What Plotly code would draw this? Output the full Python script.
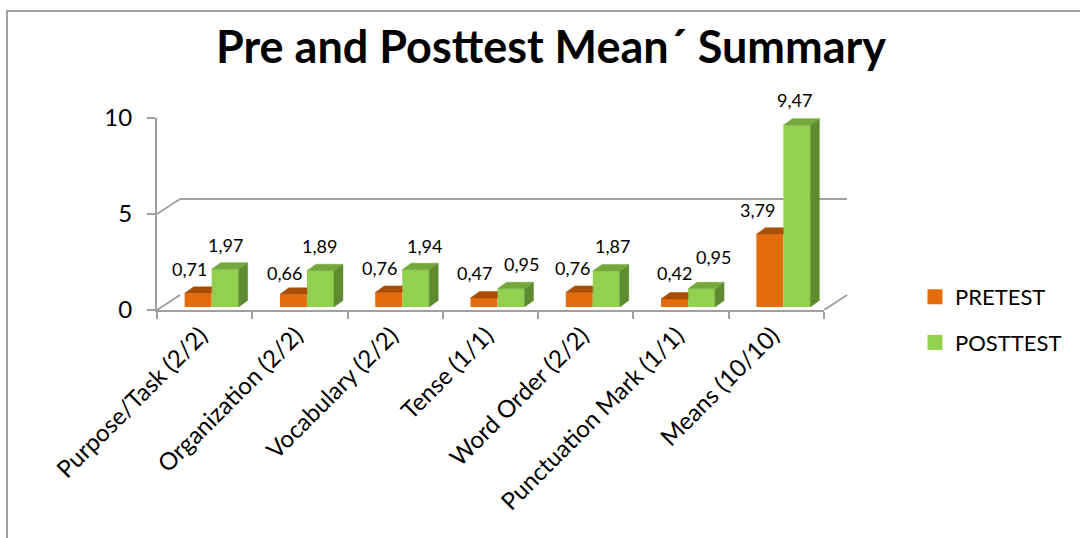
import plotly.graph_objects as go

categories = ["Purpose/Task (2/2)", "Organization (2/2)", "Vocabulary (2/2)", "Tense (1/1)",
              "Word Order (2/2)", "Punctuation Mark (1/1)", "Means (10/10)"]
pretest = [0.71, 0.66, 0.76, 0.47, 0.76, 0.42, 3.79]
posttest = [1.97, 1.89, 1.94, 0.95, 1.87, 0.95, 9.47]
y_ticks = [0, 5, 10]
series_names = ["PRETEST", "POSTTEST"]
title_text = "Pre and Posttest Mean\u00b4 Summary"

W, H = 1080, 538
FONT = "Lato"
GRID = "#A0A0A0"
C_PRE, C_PRE_TOP = "#E46C0A", "#A84E07"
C_POST, C_POST_TOP, C_POST_SIDE = "#92D050", "#74A83C", "#5E8A30"

# data-label nudges in pixels (Excel moves overlapping labels apart)
PRE_LBL_DX = [-9, -8.5, -9, -9.5, -6.5, 0, -12]
PRE_LBL_DY = [24, 21, 24, 25, 24, 26, 24]
POST_LBL_DX = [0, -1, 8.5, 10, 6, 11.5, -2]
POST_LBL_DY = [24.5, 24.5, 24, 25, 25, 32, 25]

n = len(categories)
# pixel geometry of the pseudo-3D frame
FX0, FX1 = 157, 824          # front category axis
FY0, FY10 = 310, 118         # front value axis (0 and 10)
BDX, BDY = 23, 15            # back wall offset (px right, px up)
RDX, RDY = 7, 3              # bar row offset (px right, px up)
PX_PER_CAT = (FX1 - FX0) / n
PX_PER_UNIT = (FY0 - FY10) / 10.0


def dom_x(a, b):
    return [a / W, b / W]


def dom_y(bottom, top):
    return [1 - bottom / H, 1 - top / H]


fig = go.Figure()

# --- back wall (gridlines) : xaxis / yaxis
fig.add_trace(go.Scatter(x=[None], y=[None], xaxis="x", yaxis="y", showlegend=False, hoverinfo="skip"))

# --- front axes : xaxis2 / yaxis2
fig.add_trace(go.Scatter(x=categories, y=[None] * n, xaxis="x2", yaxis="y2", mode="markers",
                         marker=dict(opacity=0), showlegend=False, hoverinfo="skip"))

# --- bars : xaxis3 / yaxis3
xs = list(range(n))
w = 27 / PX_PER_CAT
ddx = 9 / PX_PER_CAT
ddy = 6.5 / PX_PER_UNIT

fig.add_trace(go.Bar(x=xs, y=pretest, width=w, offset=-w, marker=dict(color=C_PRE, line=dict(width=0)),
                     xaxis="x3", yaxis="y3", showlegend=False, name=series_names[0]))
fig.add_trace(go.Bar(x=xs, y=posttest, width=w, offset=0, marker=dict(color=C_POST, line=dict(width=0)),
                     xaxis="x3", yaxis="y3", showlegend=False, name=series_names[1]))

# top / side faces
px_, py_ = [], []
for i, v in zip(xs, pretest):
    x0, x1 = i - w, i
    px_ += [x0, x1, x1, x0 + ddx, x0, None]
    py_ += [v, v, v + ddy, v + ddy, v, None]
fig.add_trace(go.Scatter(x=px_, y=py_, fill="toself", fillcolor=C_PRE_TOP, mode="lines",
                         line=dict(width=0.5, color=C_PRE_TOP), xaxis="x3", yaxis="y3",
                         showlegend=False, hoverinfo="skip"))
tx, ty, sx, sy = [], [], [], []
for i, v in zip(xs, posttest):
    x0, x1 = i, i + w
    tx += [x0, x1, x1 + ddx, x0 + ddx, x0, None]
    ty += [v, v, v + ddy, v + ddy, v, None]
    sx += [x1, x1, x1 + ddx, x1 + ddx, x1, None]
    sy += [0, v, v + ddy, ddy, 0, None]
fig.add_trace(go.Scatter(x=sx, y=sy, fill="toself", fillcolor=C_POST_SIDE, mode="lines",
                         line=dict(width=0.5, color=C_POST_SIDE), xaxis="x3", yaxis="y3",
                         showlegend=False, hoverinfo="skip"))
fig.add_trace(go.Scatter(x=tx, y=ty, fill="toself", fillcolor=C_POST_TOP, mode="lines",
                         line=dict(width=0.5, color=C_POST_TOP), xaxis="x3", yaxis="y3",
                         showlegend=False, hoverinfo="skip"))

# legend entries
for nm, col in zip(series_names, [C_PRE, C_POST]):
    fig.add_trace(go.Scatter(x=[None], y=[None], mode="markers", name=nm, legendgroup=nm,
                             marker=dict(symbol="square", size=15, color=col),
                             xaxis="x2", yaxis="y2"))

annotations = []
for i, v in zip(xs, pretest):
    annotations.append(dict(x=i - w / 2, y=v, xref="x3", yref="y3", text=f"{v:.2f}".replace(".", ","),
                            showarrow=False, xshift=PRE_LBL_DX[i], yshift=PRE_LBL_DY[i], yanchor="middle",
                            font=dict(family=FONT, size=18, color="#000000")))
for i, v in zip(xs, posttest):
    annotations.append(dict(x=i + w / 2, y=v, xref="x3", yref="y3", text=f"{v:.2f}".replace(".", ","),
                            showarrow=False, xshift=POST_LBL_DX[i], yshift=POST_LBL_DY[i], yanchor="middle",
                            font=dict(family=FONT, size=18, color="#000000")))

shapes = []
# left connectors from front value axis to back wall
bdx_dom = BDX / (FX1 - FX0)
for t in y_ticks:
    shapes.append(dict(type="line", xref="x2 domain", yref="y2", x0=0, x1=bdx_dom,
                       y0=t, y1=t + BDY / PX_PER_UNIT, line=dict(color=GRID, width=2), layer="below"))
# right floor edge
shapes.append(dict(type="line", xref="x2 domain", yref="y2", x0=1, x1=1 + bdx_dom,
                   y0=0, y1=BDY / PX_PER_UNIT, line=dict(color=GRID, width=2), layer="below"))
# chart border
shapes.append(dict(type="rect", xref="paper", yref="paper", x0=7 / W, x1=1.01, y0=-0.01, y1=1 - 11 / H,
                   line=dict(color=GRID, width=2), fillcolor="rgba(0,0,0,0)"))

fig.update_layout(
    width=W, height=H,
    margin=dict(l=0, r=0, t=0, b=0, pad=0, autoexpand=False),
    paper_bgcolor="white", plot_bgcolor="rgba(0,0,0,0)",
    font=dict(family=FONT, color="#000000"),
    title=dict(text="<b>" + title_text + "</b>", x=551 / W, xanchor="center", y=1 - 47 / H, yanchor="middle",
               automargin=False, font=dict(family=FONT, size=45, color="#000000")),
    barmode="overlay",
    showlegend=True,
    legend=dict(x=915 / W, y=1 - 276 / H, xanchor="left", yanchor="top", tracegroupgap=14,
                font=dict(family=FONT, size=22, color="#000000"), bgcolor="rgba(0,0,0,0)"),
    annotations=annotations,
    shapes=shapes,
    xaxis=dict(domain=dom_x(FX0 + BDX, FX1 + BDX), range=[-0.5, n - 0.5], visible=False, anchor="y",
               automargin=False),
    yaxis=dict(domain=dom_y(FY0 - BDY, FY10 - BDY), range=[0, 10], tickvals=y_ticks, showticklabels=False,
               showgrid=True, gridcolor=GRID, gridwidth=2, zeroline=False, showline=False, ticks="",
               anchor="x", automargin=False),
    xaxis2=dict(domain=dom_x(FX0, FX1), type="category", categoryarray=categories, range=[-0.5, n - 0.5],
                anchor="y2", showline=True, linecolor=GRID, linewidth=2, ticks="outside", tickson="boundaries",
                ticklen=7, tickwidth=2, tickcolor=GRID, tickangle=-45, showgrid=False, zeroline=False,
                automargin=False, ticklabelshift=-4,
                tickfont=dict(family=FONT, size=24, color="#000000")),
    yaxis2=dict(domain=dom_y(FY0, FY10), range=[0, 10], tickvals=y_ticks, anchor="x2", showline=True,
                linecolor=GRID, linewidth=2, ticks="outside", ticklen=8, tickwidth=2, tickcolor=GRID,
                showgrid=False, zeroline=False, ticklabelstandoff=10, automargin=False,
                tickfont=dict(family=FONT, size=24, color="#000000")),
    xaxis3=dict(domain=dom_x(FX0 + RDX, FX1 + RDX), range=[-0.5, n - 0.5], visible=False, anchor="y3",
                automargin=False),
    yaxis3=dict(domain=dom_y(FY0 - RDY, FY10 - RDY), range=[0, 10], visible=False, anchor="x3",
                automargin=False),
)

fig.write_html("out.html")
